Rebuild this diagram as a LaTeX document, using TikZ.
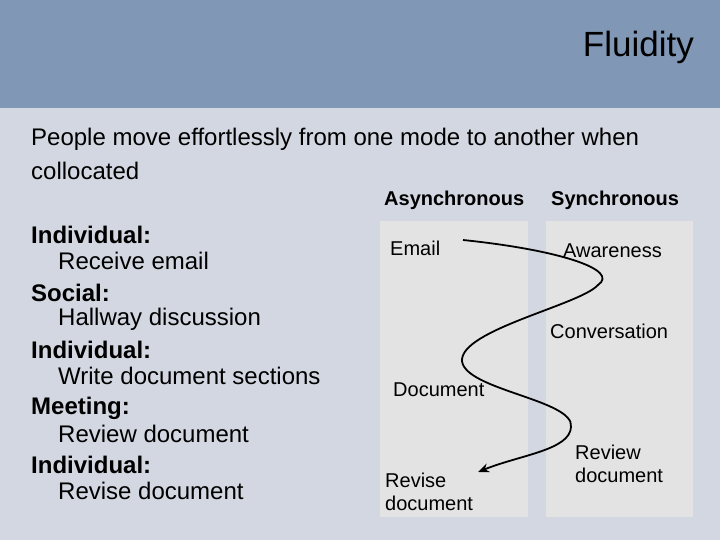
\documentclass[tikz,border=0pt]{standalone}
\usepackage{fontspec}
\setmainfont{Liberation Sans}
\usetikzlibrary{arrows.meta}
\definecolor{band}{HTML}{8097B5}
\definecolor{bodybg}{HTML}{D3D7E1}
\definecolor{panel}{HTML}{E3E3E4}
\tikzset{
  lbl/.style={anchor=west,inner sep=0pt,font=\fontsize{20}{23}\selectfont,align=left},
  head/.style={anchor=west,inner sep=0pt,font=\fontsize{20}{23}\selectfont\bfseries},
  lst/.style={anchor=west,inner sep=0pt,font=\fontsize{24}{27}\selectfont},
  lstb/.style={anchor=west,inner sep=0pt,font=\fontsize{24}{27}\selectfont\bfseries},
  pnl/.style={fill=panel,draw=none}
}
\begin{document}
\begin{tikzpicture}[x=1pt,y=-1pt]
\useasboundingbox (0,0) rectangle (720,540);
\fill[bodybg] (0,0) rectangle (720,540);
\fill[band] (0,0) rectangle (720,108);
\node[anchor=east,inner sep=0pt,font=\fontsize{35}{38}\selectfont] (title) at (694,47) {Fluidity};
\node[lst] (intro1) at (31,139) {People move effortlessly from one mode to another when};
\node[lst] (intro2) at (31,171) {collocated};
\node[lstb] (i1) at (31,235) {Individual:};
\node[lst] (i1t) at (58,261) {Receive email};
\node[lstb] (s1) at (31,293) {Social:};
\node[lst] (s1t) at (58,319) {Hallway discussion};
\node[lstb] (i2) at (31,350) {Individual:};
\node[lst] (i2t) at (58,376) {Write document sections};
\node[lstb] (m1) at (31,408) {Meeting:};
\node[lst] (m1t) at (58,434) {Review document};
\node[lstb] (i3) at (31,465) {Individual:};
\node[lst] (i3t) at (58,491) {Revise document};
\node[head] (ha) at (384,200) {Asynchronous};
\node[head] (hs) at (551,200) {Synchronous};
\fill[pnl] (380,221) rectangle (528,517);
\fill[pnl] (546,221) rectangle (693,517);
\node[lbl] (email) at (390,248) {Email};
\node[lbl] (aware) at (563,251) {Awareness};
\node[lbl] (conv) at (550,331) {Conversation};
\node[lbl] (doc) at (393,390) {Document};
\node[lbl] (rev) at (575,464) {Review\\document};
\node[lbl] (revise) at (385,492) {Revise\\document};
\coordinate (c0) at (463,240);
\coordinate (c1) at (598,285);
\coordinate (c2) at (462,361);
\coordinate (c3) at (571,427);
\coordinate (c4) at (478,472);
\draw[line width=1.8pt,-{Stealth[length=11pt,width=9pt]}]
  (c0) .. controls (560,250) and (620,270) .. (c1)
  .. controls (580,305) and (460,330) .. (c2)
  .. controls (465,390) and (575,400) .. (c3)
  .. controls (570,450) and (520,455) .. (c4);
\end{tikzpicture}
\end{document}
